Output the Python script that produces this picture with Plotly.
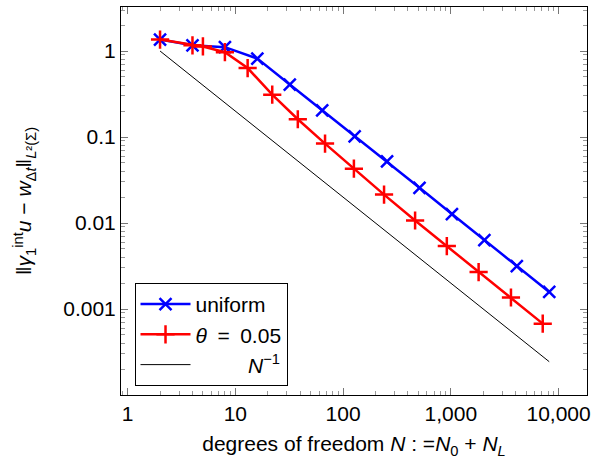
import plotly.graph_objects as go

# ---- data ----
N_uniform = [2, 4, 8, 16, 32, 64, 128, 256, 512, 1024, 2048, 4096, 8192]
err_uniform = [1.36, 1.165, 1.11, 0.816, 0.407, 0.204, 0.102, 0.0522, 0.0257,
               0.0127, 0.00634, 0.00316, 0.00158]

N_theta = [2, 4, 5, 8, 13, 22, 38, 68, 126, 240, 466, 918, 1811, 3616, 7130]
err_theta = [1.36, 1.165, 1.13, 0.97, 0.634, 0.311, 0.161, 0.0838, 0.0429,
             0.0214, 0.0107, 0.0054, 0.00269, 0.00136, 0.000676]

N_ref = [2, 8192]
err_ref = [1.0, 0.000244]

x_tickvals = [1, 10, 100, 1000, 10000]
x_ticktext = ["1", "10", "100", "1,000", "10,000"]
y_tickvals = [1, 0.1, 0.01, 0.001]
y_ticktext = ["1", "0.1", "0.01", "0.001"]

FONT = "Liberation Sans, Arial, Helvetica, sans-serif"
FS = 21

fig = go.Figure()
fig.add_trace(go.Scatter(
    x=N_uniform, y=err_uniform, mode="lines+markers", name="uniform",
    line=dict(color="#0000ff", width=2.5),
    marker=dict(symbol="x-thin", size=12, line=dict(color="#0000ff", width=2.5)),
))
fig.add_trace(go.Scatter(
    x=N_theta, y=err_theta, mode="lines+markers", name="<i>θ</i>\u2002=\u20020.05",
    line=dict(color="#ff0000", width=2.5),
    marker=dict(symbol="cross-thin", size=13, line=dict(color="#ff0000", width=2.5)),
))
fig.add_trace(go.Scatter(
    x=N_ref, y=err_ref, mode="lines", name="         <i>N</i><sup>−1</sup>",
    line=dict(color="black", width=1),
))

minor_x = [m * 10 ** d for d in range(-1, 5) for m in range(2, 10)]
minor_y = [m * 10.0 ** d for d in range(-5, 1) for m in range(2, 10)]

axis_common = dict(
    type="log", showgrid=False, zeroline=False, automargin=False,
    showline=True, linecolor="black", linewidth=1, mirror="allticks",
    ticks="inside", ticklen=7, tickcolor="#777", tickwidth=1,
    tickfont=dict(family=FONT, size=FS, color="black"),
)

fig.update_xaxes(
    **axis_common,
    range=[-0.0614, 4.264],
    tickvals=x_tickvals, ticktext=x_ticktext,
    minor=dict(tickvals=minor_x, ticks="inside", ticklen=4, tickcolor="#999", tickwidth=1),
    title=dict(text="degrees of freedom <i>N</i> : =<i>N</i><sub>0</sub> + <i>N</i><sub><i>L</i></sub>",
               font=dict(family=FONT, size=FS, color="black"), standoff=12),
)
fig.update_yaxes(
    **axis_common,
    range=[-4.0, 0.512],
    tickvals=y_tickvals, ticktext=y_ticktext,
    minor=dict(tickvals=minor_y, ticks="inside", ticklen=4, tickcolor="#999", tickwidth=1),
    title=dict(text="‖<i>γ</i><sub>1</sub><sup>int</sup><i>u</i> − <i>w</i><sub>Δ<i>t</i></sub>‖<sub><i>L</i>²(Σ)</sub>",
               font=dict(family=FONT, size=FS, color="black"), standoff=25),
)

fig.update_layout(
    width=593, height=461,
    margin=dict(l=121, r=6, t=7, b=66, autoexpand=False),
    paper_bgcolor="white", plot_bgcolor="white",
    font=dict(family=FONT, size=FS, color="black"),
    showlegend=True,
    legend=dict(
        x=0.029, y=0.289, xanchor="left", yanchor="top",
        bgcolor="white", bordercolor="black", borderwidth=1,
        font=dict(family=FONT, size=FS, color="black"),
        tracegroupgap=0, itemwidth=50,
    ),
)

fig.write_html("out.html", config={"displayModeBar": False},
               post_script="document.body.style.margin='0';")
